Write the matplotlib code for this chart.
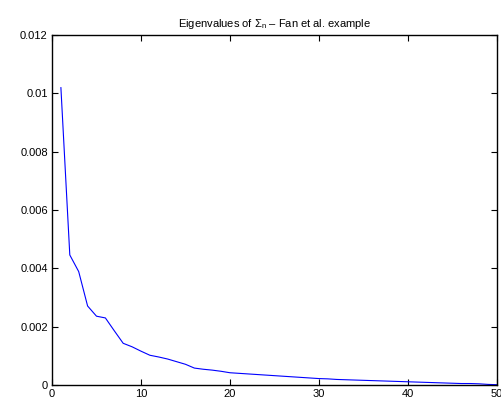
import matplotlib
matplotlib.use("Agg")
import matplotlib.pyplot as plt

plt.rcParams['font.family'] = ['Liberation Sans', 'DejaVu Sans']
plt.rcParams['mathtext.fontset'] = 'custom'
plt.rcParams['mathtext.rm'] = 'Liberation Sans'
plt.rcParams['mathtext.it'] = 'Liberation Sans'

# eigenvalue index and sorted eigenvalues
index = list(range(1, 51))
eigenvalues = [
    0.01020, 0.00446, 0.00389, 0.00271, 0.00236, 0.00230, 0.00186, 0.00143, 0.00131, 0.00116,
    0.00102, 0.00096, 0.00089, 0.00080, 0.00071, 0.00058, 0.00054, 0.00051, 0.00047, 0.00042,
    0.00040, 0.00038, 0.00036, 0.00034, 0.00032, 0.00030, 0.00028, 0.00026, 0.00024, 0.00022,
    0.00021, 0.00019, 0.00018, 0.00017, 0.00016, 0.00015, 0.00014, 0.00013, 0.00012, 0.00011,
    0.00010, 0.00009, 0.00008, 0.00007, 0.00006, 0.00005, 0.00005, 0.00004, 0.00002, 0.00001,
]
xticks = [0, 10, 20, 30, 40, 50]
yticks = [0, 0.002, 0.004, 0.006, 0.008, 0.01, 0.012]
ytick_labels = ['0', '0.002', '0.004', '0.006', '0.008', '0.01', '0.012']

fig = plt.figure(figsize=(5.01, 4.03), dpi=100)
ax = fig.add_axes([0.1038, 0.0447, 0.888, 0.868])

ax.plot(index, eigenvalues, color='#0000ff', linewidth=0.8)

ax.set_xlim(0, 50)
ax.set_ylim(0, 0.012)
ax.set_xticks(xticks)
ax.set_xticklabels([str(t) for t in xticks])
ax.set_yticks(yticks)
ax.set_yticklabels(ytick_labels)
ax.tick_params(direction='in', top=True, right=True, labelsize=8, length=4, width=0.8, pad=3)
for s in ax.spines.values():
    s.set_linewidth(1.0)

ax.set_title(r'Eigenvalues of $\Sigma_n$ – Fan et al. example', fontsize=8, pad=6)

fig.savefig('out.png', dpi=100)
